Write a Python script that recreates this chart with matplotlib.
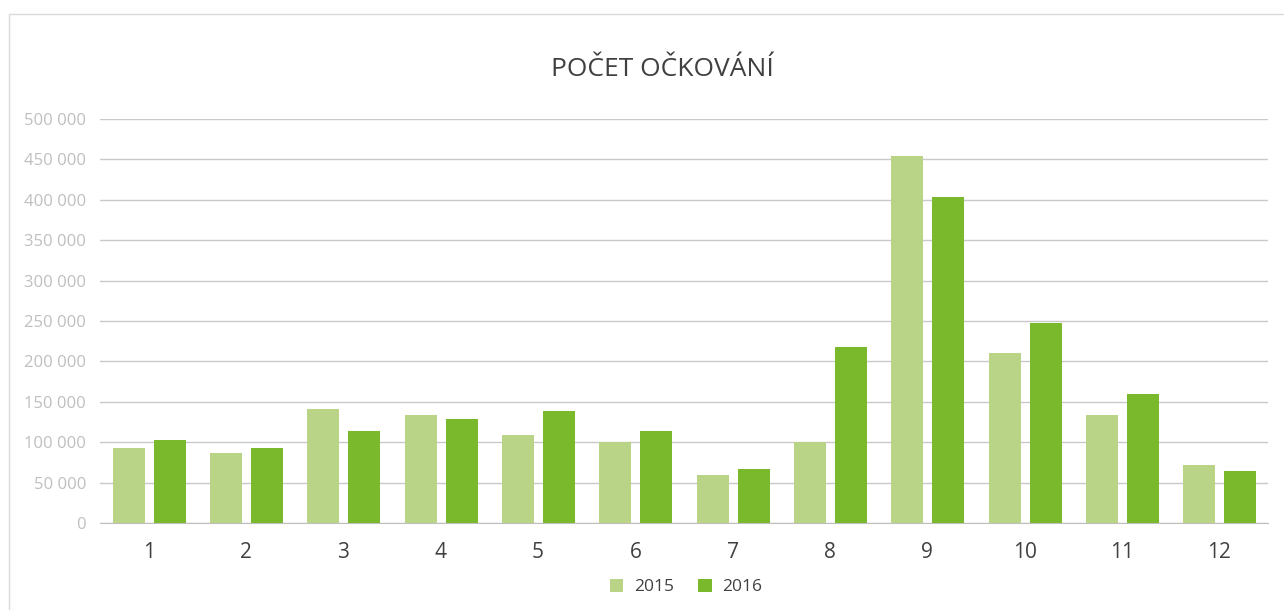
import matplotlib.pyplot as plt
import numpy as np
from matplotlib.patches import Rectangle
from matplotlib.ticker import FuncFormatter

plt.rcParams['font.family'] = ['Open Sans', 'DejaVu Sans']

# months and vaccination counts
months = ['1', '2', '3', '4', '5', '6', '7', '8', '9', '10', '11', '12']
y2015 = [93000, 87000, 141000, 134000, 109000, 100000, 60000, 100000, 454000, 211000, 134000, 72000]
y2016 = [103000, 93000, 114000, 129000, 138000, 114000, 67000, 218000, 404000, 248000, 160000, 64000]
series = ['2015', '2016']
colors = ['#b9d486', '#7ab82c']

fig = plt.figure(figsize=(12.84, 6.1), dpi=100)
# outer chart border
fig.patches.append(Rectangle((9 / 1284, -0.01), 1.0, (610 - 14) / 610 + 0.01,
                             transform=fig.transFigure, fill=False,
                             edgecolor='#d9d9d9', linewidth=1))

ax = fig.add_axes([100 / 1284, (610 - 523) / 610, 1168 / 1284, 404 / 610])

x = np.arange(len(months))
w = 0.33
ax.bar(x - 0.205, y2015, width=w, color=colors[0], label=series[0], zorder=3)
ax.bar(x + 0.215, y2016, width=w, color=colors[1], label=series[1], zorder=3)

ax.set_xlim(-0.5, len(months) - 0.5)
ax.set_ylim(0, 500000)
ax.set_yticks(np.arange(0, 500001, 50000))
ax.yaxis.set_major_formatter(FuncFormatter(lambda v, p: f'{int(v):,}'.replace(',', ' ')))
ax.set_xticks(x)
ax.set_xticklabels(months)
ax.grid(axis='y', color='#c9c9c9', linewidth=1, zorder=0)
for s in ['top', 'right', 'left']:
    ax.spines[s].set_visible(False)
ax.spines['bottom'].set_color('#bfbfbf')
ax.tick_params(axis='y', length=0, labelsize=12, labelcolor='#bfbfbf', pad=10)
ax.tick_params(axis='x', length=0, labelsize=15, labelcolor='#404040', pad=14)

fig.text(0.5 + 20 / 1284, 1 - 70 / 610, 'POČET OČKOVÁNÍ', ha='center', va='center',
         fontsize=19, color='#404040')

fig.legend(loc='center', bbox_to_anchor=(686 / 1284, 1 - 587 / 610), ncol=2,
           frameon=False, fontsize=12.5, labelcolor='#404040', handlelength=0.8,
           handleheight=0.8, columnspacing=1.4, handletextpad=0.6)

fig.savefig('out.png', dpi=100)
